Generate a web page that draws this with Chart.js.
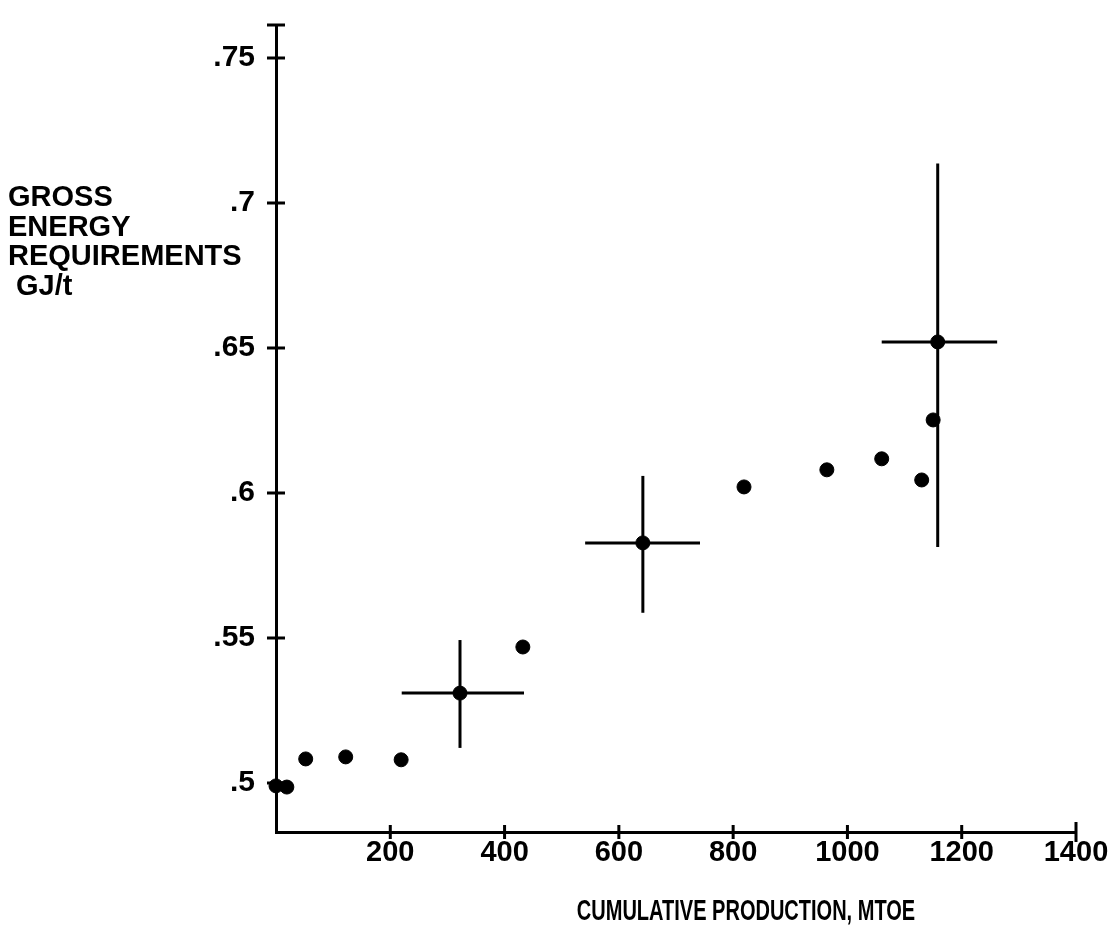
<!DOCTYPE html>
<html>
<head>
<meta charset="utf-8">
<title>Gross energy requirements</title>
<script src="https://cdn.jsdelivr.net/npm/chart.js@4/dist/chart.umd.min.js"></script>
<style>
  html, body { margin: 0; padding: 0; background: #fff; }
  #wrap { width: 1108px; height: 949px; }
</style>
</head>
<body>
<div id="wrap"><canvas id="chart" width="1108" height="949"></canvas></div>
<script>
// data
let prodX = [0, 19, 52, 122, 219, 322, 432, 642, 819, 964, 1060, 1130, 1150, 1158];
let gerY = [0.499, 0.4986, 0.5083, 0.509, 0.508, 0.531, 0.5469, 0.5828, 0.6021, 0.608, 0.6118, 0.6045, 0.6252, 0.6521];

// error crosses
let crossX = [322, 642, 1158];
let crossY = [0.531, 0.5828, 0.6521];
let crossXLow = [220, 541, 1060];
let crossXHigh = [434, 742, 1262];
let crossYLow = [0.5121, 0.5587, 0.5814];
let crossYHigh = [0.5493, 0.6059, 0.7136];

// ticks
let xTicks = [0, 200, 400, 600, 800, 1000, 1200, 1400];
let yTicks = [0.5, 0.55, 0.6, 0.65, 0.7, 0.75];
let yTitle = ['GROSS', 'ENERGY', 'REQUIREMENTS', ' GJ/t'];
let xTitle = 'CUMULATIVE PRODUCTION, MTOE';

let fam = '"Liberation Sans", Arial, sans-serif';

// build the datasets
let datasets = [{
  label: 'points',
  data: prodX.map((x, i) => ({ x: x, y: gerY[i] })),
  backgroundColor: '#000',
  borderColor: '#000',
  pointRadius: 7,
  pointHoverRadius: 7,
  showLine: false,
  clip: false,
  order: 0
}];
for (let i = 0; i < crossX.length; i++) {
  datasets.push({
    label: 'h' + i,
    data: [{ x: crossXLow[i], y: crossY[i] }, { x: crossXHigh[i], y: crossY[i] }],
    borderColor: '#000',
    borderWidth: 3,
    pointRadius: 0,
    showLine: true,
    clip: false,
    order: 1
  });
  datasets.push({
    label: 'v' + i,
    data: [{ x: crossX[i], y: crossYLow[i] }, { x: crossX[i], y: crossYHigh[i] }],
    borderColor: '#000',
    borderWidth: 3,
    pointRadius: 0,
    showLine: true,
    clip: false,
    order: 1
  });
}

// tick marks crossing the axes, and the titles
let axisExtras = {
  id: 'axisExtras',
  afterDraw(chart) {
    let ctx = chart.ctx;
    let area = chart.chartArea;
    let xs = chart.scales.x;
    let ys = chart.scales.y;
    ctx.save();
    ctx.strokeStyle = '#000';
    ctx.lineWidth = 3;
    ctx.beginPath();
    yTicks.forEach(v => {
      let py = ys.getPixelForValue(v);
      ctx.moveTo(area.left - 9, py);
      ctx.lineTo(area.left + 9, py);
    });
    xTicks.forEach(v => {
      if (v === 0) return;
      let px = xs.getPixelForValue(v);
      let len = v === 1400 ? 10 : 7;
      ctx.moveTo(px, area.bottom - len);
      ctx.lineTo(px, area.bottom + len);
    });
    // T at the top of the y axis
    ctx.moveTo(area.left - 9, area.top);
    ctx.lineTo(area.left + 9, area.top);
    ctx.stroke();

    ctx.fillStyle = '#000';
    ctx.textAlign = 'left';
    ctx.textBaseline = 'alphabetic';
    ctx.font = 'bold 29px ' + fam;
    yTitle.forEach((t, i) => {
      ctx.fillText(t, 8, 206 + i * 29.5);
    });
    // condensed x title
    ctx.font = 'bold 29px ' + fam;
    ctx.textAlign = 'center';
    ctx.translate(746, 920);
    ctx.scale(0.69, 1);
    ctx.fillText(xTitle, 0, 0);
    ctx.restore();
  }
};

let chart = new Chart(document.getElementById('chart'), {
  type: 'scatter',
  data: { datasets: datasets },
  options: {
    responsive: false,
    animation: false,
    events: [],
    layout: { padding: { left: 0, top: 25, right: 32, bottom: 0 } },
    plugins: {
      legend: { display: false },
      tooltip: { enabled: false }
    },
    scales: {
      x: {
        type: 'linear',
        min: 0,
        max: 1400,
        afterFit: s => {
          s.height = 117;
          s.paddingLeft = 0;
          s.paddingRight = 0;
        },
        afterBuildTicks: s => { s.ticks = xTicks.map(v => ({ value: v })); },
        grid: { display: false, drawTicks: false },
        border: { display: true, color: '#000', width: 3 },
        ticks: {
          color: '#000',
          padding: 4,
          font: { family: fam, size: 29, weight: 'bold' },
          callback: v => (v === 0 ? '' : String(v))
        }
      },
      y: {
        type: 'linear',
        min: 0.4831,
        max: 0.7614,
        afterFit: s => {
          s.width = 276;
          s.paddingTop = 0;
          s.paddingBottom = 0;
        },
        afterBuildTicks: s => { s.ticks = yTicks.map(v => ({ value: v })); },
        grid: { display: false, drawTicks: false },
        border: { display: true, color: '#000', width: 3 },
        ticks: {
          color: '#000',
          padding: 21,
          font: { family: fam, size: 30, weight: 'bold' },
          callback: v => String(Math.round(v * 100) / 100).replace(/^0/, '')
        }
      }
    }
  },
  plugins: [axisExtras]
});
</script>
</body>
</html>
